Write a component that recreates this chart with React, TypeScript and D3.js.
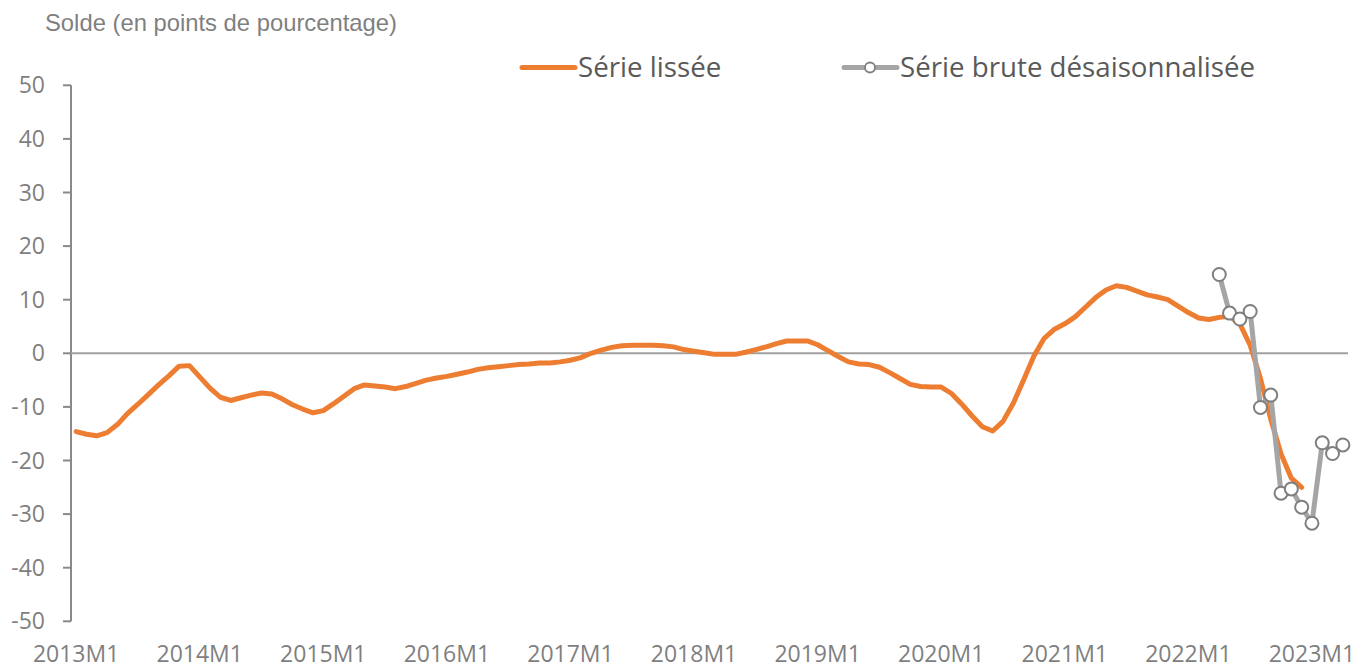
import React from 'react'
import * as d3 from 'd3'

// Monthly categories 2013M1 .. 2023M4
const startYear = 2013
const nMonths = 124
const categories: string[] = []
for (let i = 0; i < nMonths; i++) {
    categories.push(`${startYear + Math.floor(i / 12)}M${(i % 12) + 1}`)
}

// Série lissée, 2013M1 .. 2022M12
const smoothed = [
    -14.6, -15.1, -15.4, -14.8, -13.3, -11.2, -9.5, -7.7, -5.9, -4.2, -2.4, -2.3,
    -4.4, -6.5, -8.2, -8.8, -8.3, -7.8, -7.4, -7.6, -8.5, -9.6, -10.4, -11.1,
    -10.7, -9.4, -8.0, -6.6, -5.9, -6.1, -6.3, -6.6, -6.2, -5.6, -5.0, -4.6,
    -4.3, -3.9, -3.5, -3.0, -2.7, -2.5, -2.3, -2.1, -2.0, -1.8, -1.8, -1.6,
    -1.3, -0.8, 0.0, 0.6, 1.1, 1.4, 1.5, 1.5, 1.5, 1.4, 1.2, 0.7,
    0.4, 0.1, -0.2, -0.2, -0.2, 0.2, 0.7, 1.2, 1.8, 2.3, 2.3, 2.3,
    1.6, 0.5, -0.6, -1.6, -2.0, -2.1, -2.6, -3.6, -4.7, -5.8, -6.2, -6.3,
    -6.3, -7.5, -9.5, -11.7, -13.7, -14.5, -12.7, -9.3, -5.0, -0.5, 2.8, 4.5,
    5.5, 6.8, 8.6, 10.4, 11.8, 12.6, 12.3, 11.6, 10.9, 10.5, 10.0, 8.8,
    7.6, 6.6, 6.3, 6.7, 6.9, 5.5, 1.5, -4.7, -12.3, -18.8, -23.3, -25.0,
]

// Série brute désaisonnalisée, 2022M4 .. 2023M4
const rawStart = 111
const raw = [14.7, 7.5, 6.4, 7.8, -10.1, -7.8, -26.1, -25.3, -28.7, -31.7, -16.7, -18.7, -17.1]

const yTicks = [50, 40, 30, 20, 10, 0, -10, -20, -30, -40, -50]

const W = 1359
const H = 668
const labelFont = "'Open Sans', Lato, sans-serif"

export default function App() {
    const x = d3.scaleLinear().domain([-0.5, nMonths - 0.5]).range([71, 1348])
    const y = d3.scaleLinear().domain([-50, 50]).range([621.3, 85.3])

    const line = d3.line<[number, number]>()
        .x(d => x(d[0]))
        .y(d => y(d[1]))

    const smoothPts: [number, number][] = smoothed.map((v, i) => [i, v])
    const rawPts: [number, number][] = raw.map((v, i) => [rawStart + i, v])

    return (
        <svg width={W} height={H} style={{ position: 'absolute', left: 0, top: 0 }}>
            <rect width={W} height={H} fill="#fff" />
            <text x={45} y={31} fontFamily="'Liberation Sans', Arial, sans-serif" fontSize={23.8} fill="#7f7f7f">
                Solde (en points de pourcentage)
            </text>

            {/* legend */}
            <line x1={522} x2={575} y1={67.5} y2={67.5} stroke="#ED7D31" strokeWidth={5} strokeLinecap="round" />
            <text x={578} y={67} dy="0.35em" fontFamily={labelFont} fontSize={27.7} fill="#595959">Série lissée</text>
            <line x1={844} x2={897} y1={67.5} y2={67.5} stroke="#A5A5A5" strokeWidth={5} strokeLinecap="round" />
            <circle cx={870} cy={67.5} r={5} fill="#fff" stroke="#7f7f7f" strokeWidth={1.8} />
            <text x={900} y={67} dy="0.35em" fontFamily={labelFont} fontSize={27.7} fill="#595959">Série brute désaisonnalisée</text>

            {/* y axis */}
            <line x1={x(-0.5)} x2={x(-0.5)} y1={y(50)} y2={y(-50)} stroke="#898989" strokeWidth={2} />
            {yTicks.map(t => (
                <g key={t}>
                    <line x1={x(-0.5) - 8} x2={x(-0.5)} y1={y(t)} y2={y(t)} stroke="#898989" strokeWidth={2} />
                    <text x={45} y={y(t)} dy="0.35em" textAnchor="end" fontFamily={labelFont} fontSize={23} fill="#7f7f7f">{t}</text>
                </g>
            ))}

            {/* zero line / category axis */}
            <line x1={x(-0.5)} x2={x(nMonths - 0.5)} y1={y(0)} y2={y(0)} stroke="#a0a0a0" strokeWidth={2} />
            {categories.map((c, i) => (i % 12 === 0 ? (
                <text key={c} x={x(i)} y={654} dy="0.35em" textAnchor="middle" fontFamily={labelFont} fontSize={23} fill="#7f7f7f">{c}</text>
            ) : null))}

            {/* series */}
            <path d={line(smoothPts) ?? ''} fill="none" stroke="#ED7D31" strokeWidth={5} strokeLinejoin="round" strokeLinecap="round" />
            <path d={line(rawPts) ?? ''} fill="none" stroke="#A5A5A5" strokeWidth={5} strokeLinejoin="round" />
            {rawPts.map(p => (
                <circle key={p[0]} cx={x(p[0])} cy={y(p[1])} r={6.5} fill="#fff" stroke="#7f7f7f" strokeWidth={2} />
            ))}
        </svg>
    )
}
